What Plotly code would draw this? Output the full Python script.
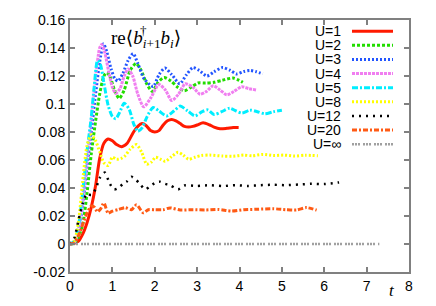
import plotly.graph_objects as go

# ---------------- data ----------------
labels = ["U=1", "U=2", "U=3", "U=4", "U=5", "U=8", "U=12", "U=20", "U=∞"]

t_U1 = [0, 0.1, 0.2, 0.3, 0.4, 0.5, 0.6, 0.7, 0.8, 0.9, 1.0, 1.1, 1.22, 1.35, 1.5, 1.6, 1.7, 1.8, 1.9,
        2.0, 2.1, 2.2, 2.3, 2.4, 2.5, 2.6, 2.7, 2.8, 2.9, 3.0, 3.14, 3.3, 3.4, 3.54, 3.7, 3.85, 3.98]
y_U1 = [0, 0.0005, 0.002, 0.007, 0.015, 0.026, 0.041, 0.061, 0.072, 0.075, 0.0737, 0.071, 0.0695, 0.072,
        0.080, 0.084, 0.086, 0.0845, 0.081, 0.080, 0.081, 0.085, 0.088, 0.089, 0.088, 0.086, 0.084, 0.0835,
        0.084, 0.085, 0.0866, 0.085, 0.0835, 0.0823, 0.0826, 0.0832, 0.0832]

t_U2 = [0, 0.1, 0.2, 0.3, 0.4, 0.5, 0.6, 0.7, 0.8, 0.87, 0.95, 1.05, 1.16, 1.28, 1.42, 1.56, 1.68, 1.8,
        1.94, 2.08, 2.22, 2.38, 2.54, 2.7, 2.86, 3.02, 3.2, 3.4, 3.6, 3.85, 4.08]
y_U2 = [0, 0.0005, 0.005, 0.014, 0.036, 0.064, 0.087, 0.107, 0.12, 0.1225, 0.119, 0.110, 0.104, 0.110,
        0.124, 0.129, 0.124, 0.115, 0.109, 0.1155, 0.119, 0.1165, 0.112, 0.1095, 0.112, 0.115, 0.115,
        0.1155, 0.117, 0.1185, 0.1155]

t_U3 = [0, 0.1, 0.2, 0.3, 0.4, 0.5, 0.6, 0.7, 0.79, 0.87, 0.97, 1.06, 1.14, 1.25, 1.37, 1.49, 1.6, 1.75,
        1.96, 2.1, 2.24, 2.4, 2.59, 2.75, 2.9, 3.05, 3.23, 3.4, 3.6, 3.78, 3.93, 4.1, 4.25, 4.4, 4.55]
y_U3 = [0, 0.001, 0.009, 0.028, 0.055, 0.08, 0.106, 0.13, 0.143, 0.137, 0.125, 0.118, 0.1165, 0.122,
        0.131, 0.136, 0.129, 0.118, 0.1125, 0.121, 0.1257, 0.121, 0.1145, 0.121, 0.126, 0.124, 0.120,
        0.123, 0.126, 0.124, 0.1215, 0.1232, 0.124, 0.123, 0.1215]

t_U4 = [0, 0.1, 0.2, 0.3, 0.4, 0.5, 0.6, 0.7, 0.75, 0.82, 0.92, 1.0, 1.08, 1.18, 1.28, 1.37, 1.48, 1.6,
        1.74, 1.9, 2.1, 2.25, 2.4, 2.56, 2.72, 2.9, 3.07, 3.22, 3.38, 3.54, 3.7, 3.87, 4.05, 4.22, 4.4]
y_U4 = [0, 0.001, 0.01, 0.031, 0.06, 0.088, 0.118, 0.14, 0.1425, 0.137, 0.122, 0.112, 0.1075, 0.111,
        0.120, 0.125, 0.12, 0.107, 0.098, 0.104, 0.114, 0.110, 0.1025, 0.107, 0.1145, 0.112, 0.107,
        0.109, 0.113, 0.110, 0.1065, 0.109, 0.1123, 0.111, 0.110]

t_U5 = [0, 0.1, 0.2, 0.3, 0.4, 0.5, 0.57, 0.65, 0.72, 0.8, 0.9, 1.0, 1.08, 1.17, 1.28, 1.4, 1.5, 1.6,
        1.7, 1.82, 1.96, 2.1, 2.28, 2.45, 2.6, 2.78, 2.95, 3.12, 3.25, 3.4, 3.58, 3.77, 3.92, 4.06, 4.25,
        4.42, 4.6, 4.8, 5.0]
y_U5 = [0, 0.002, 0.013, 0.037, 0.066, 0.09, 0.112, 0.131, 0.128, 0.115, 0.099, 0.091, 0.0895, 0.094,
        0.1005, 0.096, 0.086, 0.0805, 0.083, 0.091, 0.0975, 0.095, 0.0915, 0.095, 0.0985, 0.095, 0.0915,
        0.0945, 0.0958, 0.0925, 0.0945, 0.097, 0.095, 0.0935, 0.0956, 0.0945, 0.093, 0.0945, 0.0956]

t_U8 = [0, 0.1, 0.2, 0.3, 0.4, 0.5, 0.6, 0.7, 0.8, 0.9, 1.0, 1.1, 1.2, 1.3, 1.42, 1.57, 1.69, 1.81,
        1.92, 2.02, 2.14, 2.25, 2.4, 2.55, 2.67, 2.8, 2.95, 3.1, 3.3, 3.6, 3.85, 4.1, 4.3, 4.55, 4.8,
        5.05, 5.3, 5.55, 5.85]
y_U8 = [0, 0.002, 0.016, 0.045, 0.07, 0.078, 0.074, 0.066, 0.058, 0.056, 0.062, 0.0605, 0.061, 0.063,
        0.0677, 0.071, 0.0656, 0.057, 0.0585, 0.062, 0.0605, 0.059, 0.0625, 0.0655, 0.0635, 0.0605,
        0.062, 0.0632, 0.0635, 0.0628, 0.0627, 0.0635, 0.063, 0.064, 0.0632, 0.0635, 0.0628, 0.0634,
        0.063]

t_U12 = [0, 0.1, 0.2, 0.3, 0.4, 0.5, 0.6, 0.7, 0.82, 0.94, 1.04, 1.14, 1.25, 1.34, 1.45, 1.55, 1.65,
         1.77, 1.88, 2.0, 2.12, 2.24, 2.36, 2.55, 2.7, 3.0, 3.3, 3.6, 3.9, 4.2, 4.5, 4.8, 5.1, 5.4, 5.7,
         6.0, 6.35]
y_U12 = [0, 0.004, 0.017, 0.029, 0.036, 0.035, 0.039, 0.047, 0.051, 0.043, 0.039, 0.040, 0.043, 0.0446,
         0.048, 0.046, 0.043, 0.039, 0.041, 0.0435, 0.0445, 0.043, 0.042, 0.039, 0.0418, 0.0415, 0.042,
         0.0414, 0.042, 0.0415, 0.042, 0.0423, 0.042, 0.0425, 0.043, 0.0428, 0.044]

t_U20 = [0, 0.1, 0.2, 0.3, 0.4, 0.5, 0.57, 0.65, 0.72, 0.8, 0.9, 1.0, 1.14, 1.3, 1.45, 1.57, 1.73, 1.85,
         2.0, 2.2, 2.36, 2.6, 2.9, 3.2, 3.5, 3.81, 4.1, 4.4, 4.8, 5.1, 5.35, 5.58, 5.82]
y_U20 = [0, 0.001, 0.006, 0.014, 0.022, 0.027, 0.0265, 0.023, 0.025, 0.0293, 0.022, 0.0235, 0.0246,
         0.026, 0.0245, 0.028, 0.0223, 0.0245, 0.0245, 0.0245, 0.0258, 0.0243, 0.0245, 0.0243, 0.0247,
         0.0235, 0.0245, 0.0248, 0.0252, 0.0245, 0.0243, 0.026, 0.0242]

t_Uinf = [0, 7.3]
y_Uinf = [0, 0]

x_ticks = [0, 1, 2, 3, 4, 5, 6, 7, 8]
x_ticklabels = ["0", "1", "2", "3", "4", "5", "6", "7", "8"]
y_ticks = [-0.02, 0, 0.02, 0.04, 0.06, 0.08, 0.1, 0.12, 0.14, 0.16]
y_ticklabels = ["-0.02", "0", "0.02", "0.04", "0.06", "0.08", "0.1", "0.12", "0.14", "0.16"]

# ---------------- styles ----------------
series = [
    (t_U1, y_U1, "#ff1a00", 3, "solid"),
    (t_U2, y_U2, "#22dd00", 3, "3px,2px"),
    (t_U3, y_U3, "#2255ff", 3, "2px,2px"),
    (t_U4, y_U4, "#f07ef0", 3, "3px,1px"),
    (t_U5, y_U5, "#00eeff", 3, "6px,2px,2px,2px"),
    (t_U8, y_U8, "#ffff00", 3, "2px,2px"),
    (t_U12, y_U12, "#000000", 2.5, "2px,5px"),
    (t_U20, y_U20, "#ff5a14", 3, "5px,2px,2px,2px"),
    (t_Uinf, y_Uinf, "#a0a0a0", 2.5, "2px,1px,2px,1px,2px,3px"),
]

fig = go.Figure()
for (tx, ty, col, w, dash), lab in zip(series, labels):
    fig.add_trace(go.Scatter(
        x=tx, y=ty, mode="lines", name=lab, showlegend=False, hoverinfo="skip",
        line=dict(color=col, width=w, dash=dash, shape="spline", smoothing=0.7),
    ))

# plot area in pixels: left 70, right 409, top 18, bottom 276
L, R, T, B = 70, 409, 18, 276
def px(x):
    return (x - L) / (R - L)
def py(y):
    return (B - y) / (B - T)

annotations = []
shapes = []
for i, ((tx, ty, col, w, dash), lab) in enumerate(zip(series, labels)):
    yy = 29.5 + 14.45 * i
    annotations.append(dict(
        x=px(343), y=py(yy), xref="paper", yref="paper", xanchor="right", yanchor="middle",
        text=lab, showarrow=False, font=dict(family="Liberation Sans, Arial", size=14, color="black"),
    ))
    shapes.append(dict(
        type="line", xref="paper", yref="paper", x0=px(352), x1=px(393), y0=py(yy), y1=py(yy),
        line=dict(color=col, width=w, dash=dash),
    ))

annotations.append(dict(
    x=px(109), y=py(37), xref="paper", yref="paper", xanchor="left", yanchor="middle",
    text="re⟨<i>b</i><sub><i>i</i>+1</sub><i>b</i><sub><i>i</i></sub>⟩", showarrow=False,
    font=dict(family="Liberation Serif, DejaVu Serif, serif", size=19, color="black"),
))
annotations.append(dict(
    x=px(143), y=py(29), xref="paper", yref="paper", xanchor="center", yanchor="middle",
    text="†", showarrow=False,
    font=dict(family="Liberation Serif, DejaVu Serif, serif", size=13, color="black"),
))
annotations.append(dict(
    x=px(392), y=py(295), xref="paper", yref="paper", xanchor="center", yanchor="middle",
    text="<i>t</i>", showarrow=False,
    font=dict(family="Liberation Serif, DejaVu Serif, serif", size=17, color="black"),
))

axis_common = dict(
    showgrid=False, zeroline=False, showline=True, linecolor="#808080", linewidth=2,
    mirror="ticks", ticks="inside", ticklen=5, tickwidth=1.5, tickcolor="#808080",
    tickfont=dict(family="Liberation Sans, Arial", size=14, color="black"),
)

fig.update_layout(
    width=436, height=306,
    margin=dict(l=L, r=436 - R, t=T, b=306 - B, pad=0),
    paper_bgcolor="white", plot_bgcolor="white",
    xaxis=dict(range=[0, 8], tickvals=x_ticks, ticktext=x_ticklabels, **axis_common),
    yaxis=dict(range=[-0.02, 0.16], tickvals=y_ticks, ticktext=y_ticklabels, **axis_common),
    annotations=annotations, shapes=shapes,
)

fig.write_html("out.html", config={"displayModeBar": False},
               post_script="document.body.style.margin='0';document.body.style.overflow='hidden';")
